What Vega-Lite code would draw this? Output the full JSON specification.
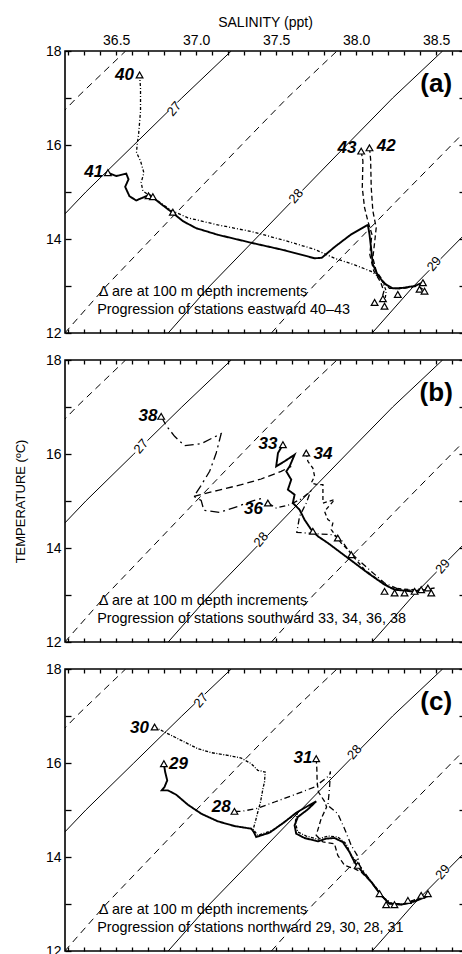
{
"$schema": "https://vega.github.io/schema/vega-lite/v6.json",
"background": "white",
"padding": {"left": 13, "top": 14, "right": 0, "bottom": 0},
"spacing": 27,
"bounds": "flush",
"config": {
 "view": {"stroke": "#000", "strokeWidth": 1.6},
 "axis": {"domain": false, "grid": false, "tickColor": "#000", "tickWidth": 1.3, "labelColor": "#000", "titleColor": "#000", "labelFont": "Liberation Sans", "labelFontSize": 14, "titleFont": "Liberation Sans", "titleFontSize": 14, "titleFontWeight": "normal"}
},
"datasets": {
 "contours": [
  {"sigma": 26.5, "T": 15, "S": 35.693}, {"sigma": 26.5, "T": 16, "S": 35.971}, {"sigma": 26.5, "T": 17, "S": 36.252}, {"sigma": 26.5, "T": 18, "S": 36.559},
  {"sigma": 27, "T": 13, "S": 35.75}, {"sigma": 27, "T": 14, "S": 36.03}, {"sigma": 27, "T": 15, "S": 36.31}, {"sigma": 27, "T": 16, "S": 36.61}, {"sigma": 27, "T": 17, "S": 36.91}, {"sigma": 27, "T": 18, "S": 37.219},
  {"sigma": 27.5, "T": 12, "S": 36.179}, {"sigma": 27.5, "T": 13, "S": 36.438}, {"sigma": 27.5, "T": 14, "S": 36.719}, {"sigma": 27.5, "T": 15, "S": 37.0}, {"sigma": 27.5, "T": 16, "S": 37.283}, {"sigma": 27.5, "T": 17, "S": 37.569}, {"sigma": 27.5, "T": 18, "S": 37.88},
  {"sigma": 28, "T": 12, "S": 36.825}, {"sigma": 28, "T": 13, "S": 37.085}, {"sigma": 28, "T": 14, "S": 37.37}, {"sigma": 28, "T": 15, "S": 37.654}, {"sigma": 28, "T": 16, "S": 37.94}, {"sigma": 28, "T": 17, "S": 38.228}, {"sigma": 28, "T": 18, "S": 38.54},
  {"sigma": 28.5, "T": 12, "S": 37.47}, {"sigma": 28.5, "T": 13, "S": 37.733}, {"sigma": 28.5, "T": 14, "S": 38.021}, {"sigma": 28.5, "T": 15, "S": 38.307}, {"sigma": 28.5, "T": 16, "S": 38.596}, {"sigma": 28.5, "T": 17, "S": 38.887},
  {"sigma": 29, "T": 12, "S": 38.1}, {"sigma": 29, "T": 13, "S": 38.36}, {"sigma": 29, "T": 14, "S": 38.65}, {"sigma": 29, "T": 15, "S": 38.94}
 ],
 "traces": [
  {"panel":"a","line":"40","i":1,"S":36.646,"T":17.49},{"panel":"a","line":"40","i":2,"S":36.652,"T":17.22},{"panel":"a","line":"40","i":3,"S":36.652,"T":16.72},{"panel":"a","line":"40","i":4,"S":36.640,"T":16.23},{"panel":"a","line":"40","i":5,"S":36.631,"T":16.01},{"panel":"a","line":"40","i":6,"S":36.627,"T":15.84},{"panel":"a","line":"40","i":7,"S":36.652,"T":15.66},{"panel":"a","line":"40","i":8,"S":36.673,"T":15.41},{"panel":"a","line":"40","i":9,"S":36.656,"T":15.20},{"panel":"a","line":"40","i":10,"S":36.667,"T":15.02},{"panel":"a","line":"40","i":11,"S":36.702,"T":14.94},{"panel":"a","line":"40","i":12,"S":36.760,"T":14.81},{"panel":"a","line":"40","i":13,"S":36.844,"T":14.61},{"panel":"a","line":"40","i":14,"S":36.948,"T":14.45},{"panel":"a","line":"40","i":15,"S":37.135,"T":14.30},{"panel":"a","line":"40","i":16,"S":37.344,"T":14.16},{"panel":"a","line":"40","i":17,"S":37.552,"T":13.97},{"panel":"a","line":"40","i":18,"S":37.740,"T":13.78},{"panel":"a","line":"40","i":19,"S":37.865,"T":13.59},{"panel":"a","line":"40","i":20,"S":37.990,"T":13.45},{"panel":"a","line":"40","i":21,"S":38.094,"T":13.31},{"panel":"a","line":"40","i":22,"S":38.156,"T":13.16},{"panel":"a","line":"40","i":23,"S":38.188,"T":12.89},{"panel":"a","line":"40","i":24,"S":38.177,"T":12.65},
  {"panel":"a","line":"41","i":1,"S":36.448,"T":15.41},{"panel":"a","line":"41","i":2,"S":36.500,"T":15.34},{"panel":"a","line":"41","i":3,"S":36.563,"T":15.39},{"panel":"a","line":"41","i":4,"S":36.577,"T":15.27},{"panel":"a","line":"41","i":5,"S":36.556,"T":15.11},{"panel":"a","line":"41","i":6,"S":36.583,"T":14.91},{"panel":"a","line":"41","i":7,"S":36.625,"T":14.82},{"panel":"a","line":"41","i":8,"S":36.673,"T":14.89},{"panel":"a","line":"41","i":9,"S":36.708,"T":14.94},{"panel":"a","line":"41","i":10,"S":36.771,"T":14.77},{"panel":"a","line":"41","i":11,"S":36.844,"T":14.58},{"panel":"a","line":"41","i":12,"S":36.917,"T":14.38},{"panel":"a","line":"41","i":13,"S":37.000,"T":14.23},{"panel":"a","line":"41","i":14,"S":37.135,"T":14.09},{"panel":"a","line":"41","i":15,"S":37.344,"T":13.92},{"panel":"a","line":"41","i":16,"S":37.552,"T":13.76},{"panel":"a","line":"41","i":17,"S":37.740,"T":13.59},{"panel":"a","line":"41","i":18,"S":37.785,"T":13.60},{"panel":"a","line":"41","i":19,"S":37.865,"T":13.83},{"panel":"a","line":"41","i":20,"S":37.969,"T":14.10},{"panel":"a","line":"41","i":21,"S":38.073,"T":14.30},{"panel":"a","line":"41","i":22,"S":38.083,"T":14.10},{"panel":"a","line":"41","i":23,"S":38.094,"T":13.78},{"panel":"a","line":"41","i":24,"S":38.104,"T":13.46},{"panel":"a","line":"41","i":25,"S":38.135,"T":13.23},{"panel":"a","line":"41","i":26,"S":38.177,"T":13.05},{"panel":"a","line":"41","i":27,"S":38.229,"T":12.95},{"panel":"a","line":"41","i":28,"S":38.292,"T":12.96},{"panel":"a","line":"41","i":29,"S":38.365,"T":13.00},{"panel":"a","line":"41","i":30,"S":38.427,"T":13.09},
  {"panel":"a","line":"42","i":1,"S":38.083,"T":15.94},{"panel":"a","line":"42","i":2,"S":38.090,"T":15.70},{"panel":"a","line":"42","i":3,"S":38.094,"T":15.09},{"panel":"a","line":"42","i":4,"S":38.104,"T":14.60},{"panel":"a","line":"42","i":5,"S":38.125,"T":14.24},{"panel":"a","line":"42","i":6,"S":38.115,"T":13.92},{"panel":"a","line":"42","i":7,"S":38.104,"T":13.60},{"panel":"a","line":"42","i":8,"S":38.125,"T":13.32},{"panel":"a","line":"42","i":9,"S":38.167,"T":13.11},{"panel":"a","line":"42","i":10,"S":38.208,"T":12.95},{"panel":"a","line":"42","i":11,"S":38.281,"T":12.94},{"panel":"a","line":"42","i":12,"S":38.385,"T":13.00},{"panel":"a","line":"42","i":13,"S":38.417,"T":12.93},
  {"panel":"a","line":"43","i":1,"S":38.031,"T":15.87},{"panel":"a","line":"43","i":2,"S":38.042,"T":15.66},{"panel":"a","line":"43","i":3,"S":38.038,"T":15.09},{"panel":"a","line":"43","i":4,"S":38.052,"T":14.67},{"panel":"a","line":"43","i":5,"S":38.073,"T":14.38},{"panel":"a","line":"43","i":6,"S":38.098,"T":14.10},{"panel":"a","line":"43","i":7,"S":38.085,"T":13.67},{"panel":"a","line":"43","i":8,"S":38.110,"T":13.32},{"panel":"a","line":"43","i":9,"S":38.152,"T":13.09},{"panel":"a","line":"43","i":10,"S":38.173,"T":12.89},{"panel":"a","line":"43","i":11,"S":38.156,"T":12.68},
  {"panel":"b","line":"38a","i":1,"S":36.781,"T":16.801},{"panel":"b","line":"38a","i":2,"S":36.813,"T":16.603},{"panel":"b","line":"38a","i":3,"S":36.865,"T":16.376},{"panel":"b","line":"38a","i":4,"S":36.927,"T":16.177},{"panel":"b","line":"38a","i":5,"S":37.031,"T":16.220},{"panel":"b","line":"38a","i":6,"S":37.156,"T":16.433},{"panel":"b","line":"38a","i":7,"S":37.125,"T":16.021},{"panel":"b","line":"38a","i":8,"S":37.084,"T":15.631},{"panel":"b","line":"38a","i":9,"S":37.027,"T":15.312},{"panel":"b","line":"38a","i":10,"S":36.986,"T":15.099},{"panel":"b","line":"38a","i":11,"S":37.031,"T":15.014},{"panel":"b","line":"38a","i":12,"S":37.048,"T":14.801},{"panel":"b","line":"38a","i":13,"S":37.146,"T":14.759},{"panel":"b","line":"38a","i":14,"S":37.261,"T":14.886},{"panel":"b","line":"38a","i":15,"S":37.344,"T":14.993},{"panel":"b","line":"38a","i":16,"S":37.417,"T":15.064},
  {"panel":"b","line":"38b","i":1,"S":36.986,"T":15.099},{"panel":"b","line":"38b","i":2,"S":37.136,"T":15.227},{"panel":"b","line":"38b","i":3,"S":37.282,"T":15.347},{"panel":"b","line":"38b","i":4,"S":37.406,"T":15.468},{"panel":"b","line":"38b","i":5,"S":37.531,"T":15.631},{"panel":"b","line":"38b","i":6,"S":37.594,"T":15.737},
  {"panel":"b","line":"33","i":1,"S":37.542,"T":16.198},{"panel":"b","line":"33","i":2,"S":37.511,"T":16.021},{"panel":"b","line":"33","i":3,"S":37.500,"T":15.737},{"panel":"b","line":"33","i":4,"S":37.552,"T":15.844},{"panel":"b","line":"33","i":5,"S":37.615,"T":15.986},{"panel":"b","line":"33","i":6,"S":37.584,"T":15.737},{"panel":"b","line":"33","i":7,"S":37.563,"T":15.631},{"panel":"b","line":"33","i":8,"S":37.594,"T":15.454},{"panel":"b","line":"33","i":9,"S":37.573,"T":15.241},{"panel":"b","line":"33","i":10,"S":37.615,"T":15.135},{"panel":"b","line":"33","i":11,"S":37.604,"T":14.957},{"panel":"b","line":"33","i":12,"S":37.646,"T":14.815},{"panel":"b","line":"33","i":13,"S":37.677,"T":14.603},{"panel":"b","line":"33","i":14,"S":37.719,"T":14.390},{"panel":"b","line":"33","i":15,"S":37.761,"T":14.248},{"panel":"b","line":"33","i":16,"S":37.823,"T":14.106},{"panel":"b","line":"33","i":17,"S":37.906,"T":13.894},{"panel":"b","line":"33","i":18,"S":37.990,"T":13.681},{"panel":"b","line":"33","i":19,"S":38.073,"T":13.468},{"panel":"b","line":"33","i":20,"S":38.177,"T":13.220},{"panel":"b","line":"33","i":21,"S":38.240,"T":13.113},{"panel":"b","line":"33","i":22,"S":38.344,"T":13.078},{"panel":"b","line":"33","i":23,"S":38.448,"T":13.113},
  {"panel":"b","line":"34","i":1,"S":37.688,"T":16.021},{"panel":"b","line":"34","i":2,"S":37.698,"T":15.844},{"panel":"b","line":"34","i":3,"S":37.729,"T":15.702},{"panel":"b","line":"34","i":4,"S":37.740,"T":15.525},{"panel":"b","line":"34","i":5,"S":37.719,"T":15.383},{"panel":"b","line":"34","i":6,"S":37.761,"T":15.347},{"panel":"b","line":"34","i":7,"S":37.792,"T":15.347},{"panel":"b","line":"34","i":8,"S":37.792,"T":14.957},{"panel":"b","line":"34","i":9,"S":37.865,"T":15.028},{"panel":"b","line":"34","i":10,"S":37.802,"T":14.780},{"panel":"b","line":"34","i":11,"S":37.823,"T":14.603},{"panel":"b","line":"34","i":12,"S":37.854,"T":14.532},{"panel":"b","line":"34","i":13,"S":37.844,"T":14.390},{"panel":"b","line":"34","i":14,"S":37.875,"T":14.248},{"panel":"b","line":"34","i":15,"S":37.906,"T":14.106},{"panel":"b","line":"34","i":16,"S":37.948,"T":13.964},{"panel":"b","line":"34","i":17,"S":37.990,"T":13.787},{"panel":"b","line":"34","i":18,"S":38.052,"T":13.539},{"panel":"b","line":"34","i":19,"S":38.136,"T":13.326},{"panel":"b","line":"34","i":20,"S":38.219,"T":13.149},{"panel":"b","line":"34","i":21,"S":38.344,"T":13.113},{"panel":"b","line":"34","i":22,"S":38.469,"T":13.149},
  {"panel":"b","line":"36","i":1,"S":37.448,"T":14.957},{"panel":"b","line":"36","i":2,"S":37.500,"T":14.851},{"panel":"b","line":"36","i":3,"S":37.584,"T":14.922},{"panel":"b","line":"36","i":4,"S":37.656,"T":15.042},{"panel":"b","line":"36","i":5,"S":37.715,"T":15.206},{"panel":"b","line":"36","i":6,"S":37.688,"T":14.957},{"panel":"b","line":"36","i":7,"S":37.646,"T":14.674},{"panel":"b","line":"36","i":8,"S":37.629,"T":14.333},{"panel":"b","line":"36","i":9,"S":37.740,"T":14.305},{"panel":"b","line":"36","i":10,"S":37.854,"T":14.284},{"panel":"b","line":"36","i":11,"S":37.906,"T":14.177},{"panel":"b","line":"36","i":12,"S":37.948,"T":13.964},{"panel":"b","line":"36","i":13,"S":38.011,"T":13.752},{"panel":"b","line":"36","i":14,"S":38.094,"T":13.503},{"panel":"b","line":"36","i":15,"S":38.177,"T":13.255},{"panel":"b","line":"36","i":16,"S":38.271,"T":13.113},{"panel":"b","line":"36","i":17,"S":38.386,"T":13.099},{"panel":"b","line":"36","i":18,"S":38.490,"T":13.149},
  {"panel":"c","line":"29","i":1,"S":36.798,"T":15.985},{"panel":"c","line":"29","i":2,"S":36.806,"T":15.808},{"panel":"c","line":"29","i":3,"S":36.819,"T":15.631},{"panel":"c","line":"29","i":4,"S":36.802,"T":15.489},{"panel":"c","line":"29","i":5,"S":36.785,"T":15.418},{"panel":"c","line":"29","i":6,"S":36.823,"T":15.418},{"panel":"c","line":"29","i":7,"S":36.875,"T":15.326},{"panel":"c","line":"29","i":8,"S":36.948,"T":15.113},{"panel":"c","line":"29","i":9,"S":37.031,"T":14.922},{"panel":"c","line":"29","i":10,"S":37.135,"T":14.759},{"panel":"c","line":"29","i":11,"S":37.239,"T":14.659},{"panel":"c","line":"29","i":12,"S":37.344,"T":14.602},{"panel":"c","line":"29","i":13,"S":37.360,"T":14.532},{"panel":"c","line":"29","i":14,"S":37.375,"T":14.425},{"panel":"c","line":"29","i":15,"S":37.458,"T":14.517},{"panel":"c","line":"29","i":16,"S":37.552,"T":14.744},{"panel":"c","line":"29","i":17,"S":37.625,"T":14.943},{"panel":"c","line":"29","i":18,"S":37.698,"T":15.085},{"panel":"c","line":"29","i":19,"S":37.750,"T":15.184},{"panel":"c","line":"29","i":20,"S":37.698,"T":15.014},{"panel":"c","line":"29","i":21,"S":37.635,"T":14.851},{"panel":"c","line":"29","i":22,"S":37.615,"T":14.673},{"panel":"c","line":"29","i":23,"S":37.625,"T":14.496},{"panel":"c","line":"29","i":24,"S":37.677,"T":14.404},{"panel":"c","line":"29","i":25,"S":37.760,"T":14.333},{"panel":"c","line":"29","i":26,"S":37.812,"T":14.390},{"panel":"c","line":"29","i":27,"S":37.864,"T":14.404},{"panel":"c","line":"29","i":28,"S":37.916,"T":14.319},{"panel":"c","line":"29","i":29,"S":37.958,"T":14.106},{"panel":"c","line":"29","i":30,"S":37.989,"T":13.893},{"panel":"c","line":"29","i":31,"S":38.042,"T":13.666},{"panel":"c","line":"29","i":32,"S":38.094,"T":13.468},{"panel":"c","line":"29","i":33,"S":38.156,"T":13.184},{"panel":"c","line":"29","i":34,"S":38.208,"T":13.007},{"panel":"c","line":"29","i":35,"S":38.281,"T":12.985},{"panel":"c","line":"29","i":36,"S":38.365,"T":13.056},{"panel":"c","line":"29","i":37,"S":38.448,"T":13.170},
  {"panel":"c","line":"30","i":1,"S":36.740,"T":16.766},{"panel":"c","line":"30","i":2,"S":36.802,"T":16.659},{"panel":"c","line":"30","i":3,"S":36.906,"T":16.482},{"panel":"c","line":"30","i":4,"S":37.010,"T":16.305},{"panel":"c","line":"30","i":5,"S":37.094,"T":16.220},{"panel":"c","line":"30","i":6,"S":37.198,"T":16.163},{"panel":"c","line":"30","i":7,"S":37.281,"T":16.106},{"panel":"c","line":"30","i":8,"S":37.344,"T":15.985},{"panel":"c","line":"30","i":9,"S":37.385,"T":15.844},{"panel":"c","line":"30","i":10,"S":37.431,"T":15.808},{"panel":"c","line":"30","i":11,"S":37.427,"T":15.595},{"panel":"c","line":"30","i":12,"S":37.417,"T":15.454},{"panel":"c","line":"30","i":13,"S":37.402,"T":15.170},{"panel":"c","line":"30","i":14,"S":37.385,"T":14.957},{"panel":"c","line":"30","i":15,"S":37.369,"T":14.744},{"panel":"c","line":"30","i":16,"S":37.356,"T":14.588},{"panel":"c","line":"30","i":17,"S":37.385,"T":14.461},{"panel":"c","line":"30","i":18,"S":37.479,"T":14.567},{"panel":"c","line":"30","i":19,"S":37.573,"T":14.801},{"panel":"c","line":"30","i":20,"S":37.631,"T":14.922},{"panel":"c","line":"30","i":21,"S":37.619,"T":14.744},{"panel":"c","line":"30","i":22,"S":37.635,"T":14.532},{"panel":"c","line":"30","i":23,"S":37.688,"T":14.446},{"panel":"c","line":"30","i":24,"S":37.760,"T":14.376},{"panel":"c","line":"30","i":25,"S":37.823,"T":14.446},{"panel":"c","line":"30","i":26,"S":37.885,"T":14.425},{"panel":"c","line":"30","i":27,"S":37.937,"T":14.283},{"panel":"c","line":"30","i":28,"S":37.969,"T":14.035},{"panel":"c","line":"30","i":29,"S":38.010,"T":13.858},{"panel":"c","line":"30","i":30,"S":38.052,"T":13.645},{"panel":"c","line":"30","i":31,"S":38.115,"T":13.397},{"panel":"c","line":"30","i":32,"S":38.167,"T":13.149},{"panel":"c","line":"30","i":33,"S":38.219,"T":13.007},{"panel":"c","line":"30","i":34,"S":38.302,"T":13.007},{"panel":"c","line":"30","i":35,"S":38.406,"T":13.127},
  {"panel":"c","line":"28","i":1,"S":37.239,"T":14.971},{"panel":"c","line":"28","i":2,"S":37.281,"T":14.971},{"panel":"c","line":"28","i":3,"S":37.375,"T":15.028},{"panel":"c","line":"28","i":4,"S":37.490,"T":15.170},{"panel":"c","line":"28","i":5,"S":37.615,"T":15.326},{"panel":"c","line":"28","i":6,"S":37.740,"T":15.489},{"panel":"c","line":"28","i":7,"S":37.833,"T":15.737},{"panel":"c","line":"28","i":8,"S":37.839,"T":15.822},{"panel":"c","line":"28","i":9,"S":37.833,"T":15.454},{"panel":"c","line":"28","i":10,"S":37.823,"T":15.099},{"panel":"c","line":"28","i":11,"S":37.885,"T":14.922},{"panel":"c","line":"28","i":12,"S":37.927,"T":14.602},{"panel":"c","line":"28","i":13,"S":37.969,"T":14.248},{"panel":"c","line":"28","i":14,"S":38.006,"T":14.035},{"panel":"c","line":"28","i":15,"S":38.021,"T":13.822},{"panel":"c","line":"28","i":16,"S":38.073,"T":13.574},{"panel":"c","line":"28","i":17,"S":38.125,"T":13.326},{"panel":"c","line":"28","i":18,"S":38.177,"T":13.113},{"panel":"c","line":"28","i":19,"S":38.239,"T":12.985},{"panel":"c","line":"28","i":20,"S":38.323,"T":13.007},{"panel":"c","line":"28","i":21,"S":38.427,"T":13.149},
  {"panel":"c","line":"31","i":1,"S":37.750,"T":16.092},{"panel":"c","line":"31","i":2,"S":37.754,"T":15.879},{"panel":"c","line":"31","i":3,"S":37.756,"T":15.595},{"panel":"c","line":"31","i":4,"S":37.764,"T":15.383},{"panel":"c","line":"31","i":5,"S":37.802,"T":15.184},{"panel":"c","line":"31","i":6,"S":37.815,"T":15.063},{"panel":"c","line":"31","i":7,"S":37.781,"T":14.815},{"panel":"c","line":"31","i":8,"S":37.750,"T":14.461},{"panel":"c","line":"31","i":9,"S":37.792,"T":14.319},{"panel":"c","line":"31","i":10,"S":37.864,"T":14.283},{"panel":"c","line":"31","i":11,"S":37.885,"T":14.035},{"panel":"c","line":"31","i":12,"S":37.927,"T":13.822},{"panel":"c","line":"31","i":13,"S":37.989,"T":13.751},{"panel":"c","line":"31","i":14,"S":38.031,"T":13.681},{"panel":"c","line":"31","i":15,"S":38.094,"T":13.468},{"panel":"c","line":"31","i":16,"S":38.156,"T":13.184},{"panel":"c","line":"31","i":17,"S":38.208,"T":13.007},{"panel":"c","line":"31","i":18,"S":38.302,"T":13.007},{"panel":"c","line":"31","i":19,"S":38.385,"T":13.113}
 ],
 "triangles": [
  {"panel":"a","S":36.646,"T":17.49},{"panel":"a","S":36.448,"T":15.41},{"panel":"a","S":38.031,"T":15.87},{"panel":"a","S":38.083,"T":15.94},{"panel":"a","S":36.702,"T":14.92},{"panel":"a","S":36.729,"T":14.90},{"panel":"a","S":36.854,"T":14.57},{"panel":"a","S":38.115,"T":12.65},{"panel":"a","S":38.167,"T":12.73},{"panel":"a","S":38.177,"T":12.57},{"panel":"a","S":38.260,"T":12.82},{"panel":"a","S":38.396,"T":12.93},{"panel":"a","S":38.417,"T":13.07},{"panel":"a","S":38.427,"T":12.89},
  {"panel":"b","S":36.781,"T":16.801},{"panel":"b","S":37.542,"T":16.198},{"panel":"b","S":37.688,"T":16.021},{"panel":"b","S":37.448,"T":14.957},{"panel":"b","S":37.729,"T":14.355},{"panel":"b","S":37.885,"T":14.213},{"panel":"b","S":37.969,"T":13.858},{"panel":"b","S":38.177,"T":13.078},{"panel":"b","S":38.240,"T":13.043},{"panel":"b","S":38.302,"T":13.043},{"panel":"b","S":38.365,"T":13.078},{"panel":"b","S":38.406,"T":13.113},{"panel":"b","S":38.448,"T":13.149},{"panel":"b","S":38.469,"T":13.043},
  {"panel":"c","S":36.740,"T":16.766},{"panel":"c","S":36.798,"T":15.985},{"panel":"c","S":37.239,"T":14.971},{"panel":"c","S":37.750,"T":16.092},{"panel":"c","S":38.010,"T":13.822},{"panel":"c","S":38.146,"T":13.220},{"panel":"c","S":38.187,"T":12.985},{"panel":"c","S":38.239,"T":12.985},{"panel":"c","S":38.323,"T":13.077},{"panel":"c","S":38.406,"T":13.184},{"panel":"c","S":38.448,"T":13.220}
 ],
 "stationLabels": [
  {"panel":"a","label":"40","S":36.552,"T":17.49},{"panel":"a","label":"41","S":36.360,"T":15.43},{"panel":"a","label":"43","S":37.942,"T":15.94},{"panel":"a","label":"42","S":38.188,"T":15.98},
  {"panel":"b","label":"38","S":36.698,"T":16.80},{"panel":"b","label":"33","S":37.448,"T":16.22},{"panel":"b","label":"34","S":37.792,"T":16.007},{"panel":"b","label":"36","S":37.358,"T":14.83},
  {"panel":"c","label":"30","S":36.646,"T":16.74},{"panel":"c","label":"29","S":36.889,"T":15.985},{"panel":"c","label":"28","S":37.156,"T":15.063},{"panel":"c","label":"31","S":37.667,"T":16.106}
 ],
 "contourLabels": [
  {"panel":"a","label":"27","S":36.863,"T":16.77},{"panel":"a","label":"28","S":37.625,"T":14.91},{"panel":"a","label":"29","S":38.488,"T":13.47},
  {"panel":"b","label":"27","S":36.656,"T":16.16},{"panel":"b","label":"28","S":37.406,"T":14.18},{"panel":"b","label":"29","S":38.542,"T":13.61},
  {"panel":"c","label":"27","S":37.031,"T":17.33},{"panel":"c","label":"28","S":37.99,"T":16.23},{"panel":"c","label":"29","S":38.542,"T":13.68}
 ],
 "notes": [
  {"panel":"a","text":"∆ are at 100 m depth increments","S":36.394,"T":12.88},{"panel":"a","text":"Progression of stations eastward 40–43","S":36.381,"T":12.48},
  {"panel":"b","text":"∆ are at 100 m depth increments","S":36.394,"T":12.88},{"panel":"b","text":"Progression of stations southward 33, 34, 36, 38","S":36.381,"T":12.48},
  {"panel":"c","text":"∆ are at 100 m depth increments","S":36.394,"T":12.88},{"panel":"c","text":"Progression of stations northward 29, 30, 28, 31","S":36.381,"T":12.48}
 ],
 "panelLabels": [
  {"panel":"a","label":"(a)","S":38.50,"T":17.30},{"panel":"b","label":"(b)","S":38.50,"T":17.30},{"panel":"c","label":"(c)","S":38.50,"T":17.30}
 ]
},
"vconcat": [
 {
  "width": 400, "height": 282,
  "resolve": {"axis": {"x": "independent", "y": "independent"}},
  "layer": [
   {"data": {"name": "contours"}, "transform": [{"filter": "datum.sigma % 1 == 0"}],
    "mark": {"type": "line", "clip": true, "stroke": "#000", "strokeWidth": 1},
    "encoding": {
     "x": {"field": "S", "type": "quantitative", "scale": {"domain": [36.18, 38.68], "nice": false, "zero": false},
       "axis": {"orient": "top", "title": "SALINITY (ppt)", "values": [36.2,36.3,36.4,36.5,36.6,36.7,36.8,36.9,37.0,37.1,37.2,37.3,37.4,37.5,37.6,37.7,37.8,37.9,38.0,38.1,38.2,38.3,38.4,38.5,38.6], "tickSize": -4, "labelExpr": "abs(datum.value*2 - round(datum.value*2)) < 0.01 ? format(datum.value, '.1f') : ''", "labelPadding": 8, "labelFlush": false, "labelOverlap": false, "titlePadding": 4}},
     "y": {"field": "T", "type": "quantitative", "scale": {"domain": [12, 18], "nice": false, "zero": false},
       "axis": {"orient": "left", "title": null, "values": [12,13,14,15,16,17,18], "tickSize": -6, "labelExpr": "datum.value % 2 == 0 ? datum.label : ''", "labelPadding": 10, "labelFlush": false, "labelOverlap": false}},
     "detail": {"field": "sigma", "type": "nominal"},
     "order": {"field": "T", "type": "quantitative"}
    }},
   {"data": {"name": "contours"}, "transform": [{"filter": "datum.sigma % 1 != 0"}],
    "mark": {"type": "line", "clip": true, "stroke": "#000", "strokeWidth": 1, "strokeDash": [7, 5]},
    "encoding": {
     "x": {"field": "S", "type": "quantitative", "axis": null},
     "y": {"field": "T", "type": "quantitative", "axis": null},
     "detail": {"field": "sigma", "type": "nominal"},
     "order": {"field": "T", "type": "quantitative"}
    }},
   {"data": {"name": "contourLabels"}, "transform": [{"filter": "datum.panel == 'a'"}],
    "mark": {"type": "point", "shape": "square", "filled": true, "fill": "white", "opacity": 1, "strokeWidth": 0, "size": 160},
    "encoding": {"x": {"field": "S", "type": "quantitative", "axis": null}, "y": {"field": "T", "type": "quantitative", "axis": null}}},
   {"data": {"name": "contourLabels"}, "transform": [{"filter": "datum.panel == 'a'"}],
    "mark": {"type": "text", "font": "Liberation Sans", "fontSize": 13, "angle": -50, "color": "#000"},
    "encoding": {"x": {"field": "S", "type": "quantitative", "axis": null}, "y": {"field": "T", "type": "quantitative", "axis": null}, "text": {"field": "label"}}},
   {"data": {"name": "traces"}, "transform": [{"filter": "datum.panel == 'a'"}],
    "mark": {"type": "line", "stroke": "#000"},
    "encoding": {
     "x": {"field": "S", "type": "quantitative", "axis": {"orient": "bottom", "title": null, "values": [36.2,36.3,36.4,36.5,36.6,36.7,36.8,36.9,37.0,37.1,37.2,37.3,37.4,37.5,37.6,37.7,37.8,37.9,38.0,38.1,38.2,38.3,38.4,38.5,38.6], "tickSize": -4, "labels": false}},
     "y": {"field": "T", "type": "quantitative", "axis": {"orient": "right", "title": null, "values": [12,13,14,15,16,17,18], "tickSize": -6, "labels": false}},
     "detail": {"field": "line", "type": "nominal"},
     "order": {"field": "i", "type": "quantitative"},
     "strokeDash": {"field": "line", "type": "nominal", "legend": null, "scale": {"domain": ["40","41","42","43","33","34","36","38a","38b","29","30","28","31"], "range": [[3,2,1,2],[1,0],[5,3],[5,3],[1,0],[4,3],[6,3,1,3],[9,4,2,4],[7,4],[1,0],[3,1.5,1,1.5],[6,3,1,3],[5,3]]}},
     "strokeWidth": {"condition": {"test": "datum.line == '41' || datum.line == '33' || datum.line == '29'", "value": 1.9}, "value": 1.3}
    }},
   {"data": {"name": "triangles"}, "transform": [{"filter": "datum.panel == 'a'"}],
    "mark": {"type": "point", "shape": "triangle-up", "filled": true, "fill": "white", "stroke": "#000", "strokeWidth": 1.2, "opacity": 1, "size": 45},
    "encoding": {"x": {"field": "S", "type": "quantitative", "axis": null}, "y": {"field": "T", "type": "quantitative", "axis": null}}},
   {"data": {"name": "stationLabels"}, "transform": [{"filter": "datum.panel == 'a'"}],
    "mark": {"type": "text", "font": "Liberation Sans", "fontSize": 17, "fontWeight": "bold", "fontStyle": "italic", "color": "#000"},
    "encoding": {"x": {"field": "S", "type": "quantitative", "axis": null}, "y": {"field": "T", "type": "quantitative", "axis": null}, "text": {"field": "label"}}},
   {"data": {"name": "notes"}, "transform": [{"filter": "datum.panel == 'a'"}],
    "mark": {"type": "text", "font": "Liberation Sans", "fontSize": 14.4, "align": "left", "baseline": "middle", "color": "#000"},
    "encoding": {"x": {"field": "S", "type": "quantitative", "axis": null}, "y": {"field": "T", "type": "quantitative", "axis": null}, "text": {"field": "text"}}},
   {"data": {"name": "panelLabels"}, "transform": [{"filter": "datum.panel == 'a'"}],
    "mark": {"type": "text", "font": "Liberation Sans", "fontSize": 26, "fontWeight": "bold", "color": "#000"},
    "encoding": {"x": {"field": "S", "type": "quantitative", "axis": null}, "y": {"field": "T", "type": "quantitative", "axis": null}, "text": {"field": "label"}}}
  ]
 },
 {
  "width": 400, "height": 282,
  "resolve": {"axis": {"x": "independent", "y": "independent"}},
  "layer": [
   {"data": {"name": "contours"}, "transform": [{"filter": "datum.sigma % 1 == 0"}],
    "mark": {"type": "line", "clip": true, "stroke": "#000", "strokeWidth": 1},
    "encoding": {
     "x": {"field": "S", "type": "quantitative", "scale": {"domain": [36.18, 38.68], "nice": false, "zero": false},
       "axis": {"orient": "top", "title": null, "values": [36.2,36.3,36.4,36.5,36.6,36.7,36.8,36.9,37.0,37.1,37.2,37.3,37.4,37.5,37.6,37.7,37.8,37.9,38.0,38.1,38.2,38.3,38.4,38.5,38.6], "tickSize": -4, "labels": false}},
     "y": {"field": "T", "type": "quantitative", "scale": {"domain": [12, 18], "nice": false, "zero": false},
       "axis": {"orient": "left", "title": "TEMPERATURE (ºC)", "titleFontSize": 13, "titlePadding": 18, "values": [12,13,14,15,16,17,18], "tickSize": -6, "labelExpr": "datum.value % 2 == 0 ? datum.label : ''", "labelPadding": 10, "labelFlush": false, "labelOverlap": false}},
     "detail": {"field": "sigma", "type": "nominal"},
     "order": {"field": "T", "type": "quantitative"}
    }},
   {"data": {"name": "contours"}, "transform": [{"filter": "datum.sigma % 1 != 0"}],
    "mark": {"type": "line", "clip": true, "stroke": "#000", "strokeWidth": 1, "strokeDash": [7, 5]},
    "encoding": {
     "x": {"field": "S", "type": "quantitative", "axis": null},
     "y": {"field": "T", "type": "quantitative", "axis": null},
     "detail": {"field": "sigma", "type": "nominal"},
     "order": {"field": "T", "type": "quantitative"}
    }},
   {"data": {"name": "contourLabels"}, "transform": [{"filter": "datum.panel == 'b'"}],
    "mark": {"type": "point", "shape": "square", "filled": true, "fill": "white", "opacity": 1, "strokeWidth": 0, "size": 160},
    "encoding": {"x": {"field": "S", "type": "quantitative", "axis": null}, "y": {"field": "T", "type": "quantitative", "axis": null}}},
   {"data": {"name": "contourLabels"}, "transform": [{"filter": "datum.panel == 'b'"}],
    "mark": {"type": "text", "font": "Liberation Sans", "fontSize": 13, "angle": -50, "color": "#000"},
    "encoding": {"x": {"field": "S", "type": "quantitative", "axis": null}, "y": {"field": "T", "type": "quantitative", "axis": null}, "text": {"field": "label"}}},
   {"data": {"name": "traces"}, "transform": [{"filter": "datum.panel == 'b'"}],
    "mark": {"type": "line", "stroke": "#000"},
    "encoding": {
     "x": {"field": "S", "type": "quantitative", "axis": {"orient": "bottom", "title": null, "values": [36.2,36.3,36.4,36.5,36.6,36.7,36.8,36.9,37.0,37.1,37.2,37.3,37.4,37.5,37.6,37.7,37.8,37.9,38.0,38.1,38.2,38.3,38.4,38.5,38.6], "tickSize": -4, "labels": false}},
     "y": {"field": "T", "type": "quantitative", "axis": {"orient": "right", "title": null, "values": [12,13,14,15,16,17,18], "tickSize": -6, "labels": false}},
     "detail": {"field": "line", "type": "nominal"},
     "order": {"field": "i", "type": "quantitative"},
     "strokeDash": {"field": "line", "type": "nominal", "legend": null, "scale": {"domain": ["40","41","42","43","33","34","36","38a","38b","29","30","28","31"], "range": [[3,2,1,2],[1,0],[5,3],[5,3],[1,0],[4,3],[6,3,1,3],[9,4,2,4],[7,4],[1,0],[3,1.5,1,1.5],[6,3,1,3],[5,3]]}},
     "strokeWidth": {"condition": {"test": "datum.line == '41' || datum.line == '33' || datum.line == '29'", "value": 1.9}, "value": 1.3}
    }},
   {"data": {"name": "triangles"}, "transform": [{"filter": "datum.panel == 'b'"}],
    "mark": {"type": "point", "shape": "triangle-up", "filled": true, "fill": "white", "stroke": "#000", "strokeWidth": 1.2, "opacity": 1, "size": 45},
    "encoding": {"x": {"field": "S", "type": "quantitative", "axis": null}, "y": {"field": "T", "type": "quantitative", "axis": null}}},
   {"data": {"name": "stationLabels"}, "transform": [{"filter": "datum.panel == 'b'"}],
    "mark": {"type": "text", "font": "Liberation Sans", "fontSize": 17, "fontWeight": "bold", "fontStyle": "italic", "color": "#000"},
    "encoding": {"x": {"field": "S", "type": "quantitative", "axis": null}, "y": {"field": "T", "type": "quantitative", "axis": null}, "text": {"field": "label"}}},
   {"data": {"name": "notes"}, "transform": [{"filter": "datum.panel == 'b'"}],
    "mark": {"type": "text", "font": "Liberation Sans", "fontSize": 14.4, "align": "left", "baseline": "middle", "color": "#000"},
    "encoding": {"x": {"field": "S", "type": "quantitative", "axis": null}, "y": {"field": "T", "type": "quantitative", "axis": null}, "text": {"field": "text"}}},
   {"data": {"name": "panelLabels"}, "transform": [{"filter": "datum.panel == 'b'"}],
    "mark": {"type": "text", "font": "Liberation Sans", "fontSize": 26, "fontWeight": "bold", "color": "#000"},
    "encoding": {"x": {"field": "S", "type": "quantitative", "axis": null}, "y": {"field": "T", "type": "quantitative", "axis": null}, "text": {"field": "label"}}}
  ]
 },
 {
  "width": 400, "height": 282,
  "resolve": {"axis": {"x": "independent", "y": "independent"}},
  "layer": [
   {"data": {"name": "contours"}, "transform": [{"filter": "datum.sigma % 1 == 0"}],
    "mark": {"type": "line", "clip": true, "stroke": "#000", "strokeWidth": 1},
    "encoding": {
     "x": {"field": "S", "type": "quantitative", "scale": {"domain": [36.18, 38.68], "nice": false, "zero": false},
       "axis": {"orient": "top", "title": null, "values": [36.2,36.3,36.4,36.5,36.6,36.7,36.8,36.9,37.0,37.1,37.2,37.3,37.4,37.5,37.6,37.7,37.8,37.9,38.0,38.1,38.2,38.3,38.4,38.5,38.6], "tickSize": -4, "labels": false}},
     "y": {"field": "T", "type": "quantitative", "scale": {"domain": [12, 18], "nice": false, "zero": false},
       "axis": {"orient": "left", "title": null, "values": [12,13,14,15,16,17,18], "tickSize": -6, "labelExpr": "datum.value % 2 == 0 ? datum.label : ''", "labelPadding": 10, "labelFlush": false, "labelOverlap": false}},
     "detail": {"field": "sigma", "type": "nominal"},
     "order": {"field": "T", "type": "quantitative"}
    }},
   {"data": {"name": "contours"}, "transform": [{"filter": "datum.sigma % 1 != 0"}],
    "mark": {"type": "line", "clip": true, "stroke": "#000", "strokeWidth": 1, "strokeDash": [7, 5]},
    "encoding": {
     "x": {"field": "S", "type": "quantitative", "axis": null},
     "y": {"field": "T", "type": "quantitative", "axis": null},
     "detail": {"field": "sigma", "type": "nominal"},
     "order": {"field": "T", "type": "quantitative"}
    }},
   {"data": {"name": "contourLabels"}, "transform": [{"filter": "datum.panel == 'c'"}],
    "mark": {"type": "point", "shape": "square", "filled": true, "fill": "white", "opacity": 1, "strokeWidth": 0, "size": 160},
    "encoding": {"x": {"field": "S", "type": "quantitative", "axis": null}, "y": {"field": "T", "type": "quantitative", "axis": null}}},
   {"data": {"name": "contourLabels"}, "transform": [{"filter": "datum.panel == 'c'"}],
    "mark": {"type": "text", "font": "Liberation Sans", "fontSize": 13, "angle": -50, "color": "#000"},
    "encoding": {"x": {"field": "S", "type": "quantitative", "axis": null}, "y": {"field": "T", "type": "quantitative", "axis": null}, "text": {"field": "label"}}},
   {"data": {"name": "traces"}, "transform": [{"filter": "datum.panel == 'c'"}],
    "mark": {"type": "line", "stroke": "#000"},
    "encoding": {
     "x": {"field": "S", "type": "quantitative", "axis": {"orient": "bottom", "title": null, "values": [36.2,36.3,36.4,36.5,36.6,36.7,36.8,36.9,37.0,37.1,37.2,37.3,37.4,37.5,37.6,37.7,37.8,37.9,38.0,38.1,38.2,38.3,38.4,38.5,38.6], "tickSize": -4, "labels": false}},
     "y": {"field": "T", "type": "quantitative", "axis": {"orient": "right", "title": null, "values": [12,13,14,15,16,17,18], "tickSize": -6, "labels": false}},
     "detail": {"field": "line", "type": "nominal"},
     "order": {"field": "i", "type": "quantitative"},
     "strokeDash": {"field": "line", "type": "nominal", "legend": null, "scale": {"domain": ["40","41","42","43","33","34","36","38a","38b","29","30","28","31"], "range": [[3,2,1,2],[1,0],[5,3],[5,3],[1,0],[4,3],[6,3,1,3],[9,4,2,4],[7,4],[1,0],[3,1.5,1,1.5],[6,3,1,3],[5,3]]}},
     "strokeWidth": {"condition": {"test": "datum.line == '41' || datum.line == '33' || datum.line == '29'", "value": 1.9}, "value": 1.3}
    }},
   {"data": {"name": "triangles"}, "transform": [{"filter": "datum.panel == 'c'"}],
    "mark": {"type": "point", "shape": "triangle-up", "filled": true, "fill": "white", "stroke": "#000", "strokeWidth": 1.2, "opacity": 1, "size": 45},
    "encoding": {"x": {"field": "S", "type": "quantitative", "axis": null}, "y": {"field": "T", "type": "quantitative", "axis": null}}},
   {"data": {"name": "stationLabels"}, "transform": [{"filter": "datum.panel == 'c'"}],
    "mark": {"type": "text", "font": "Liberation Sans", "fontSize": 17, "fontWeight": "bold", "fontStyle": "italic", "color": "#000"},
    "encoding": {"x": {"field": "S", "type": "quantitative", "axis": null}, "y": {"field": "T", "type": "quantitative", "axis": null}, "text": {"field": "label"}}},
   {"data": {"name": "notes"}, "transform": [{"filter": "datum.panel == 'c'"}],
    "mark": {"type": "text", "font": "Liberation Sans", "fontSize": 14.4, "align": "left", "baseline": "middle", "color": "#000"},
    "encoding": {"x": {"field": "S", "type": "quantitative", "axis": null}, "y": {"field": "T", "type": "quantitative", "axis": null}, "text": {"field": "text"}}},
   {"data": {"name": "panelLabels"}, "transform": [{"filter": "datum.panel == 'c'"}],
    "mark": {"type": "text", "font": "Liberation Sans", "fontSize": 26, "fontWeight": "bold", "color": "#000"},
    "encoding": {"x": {"field": "S", "type": "quantitative", "axis": null}, "y": {"field": "T", "type": "quantitative", "axis": null}, "text": {"field": "label"}}}
  ]
 }
]
}
